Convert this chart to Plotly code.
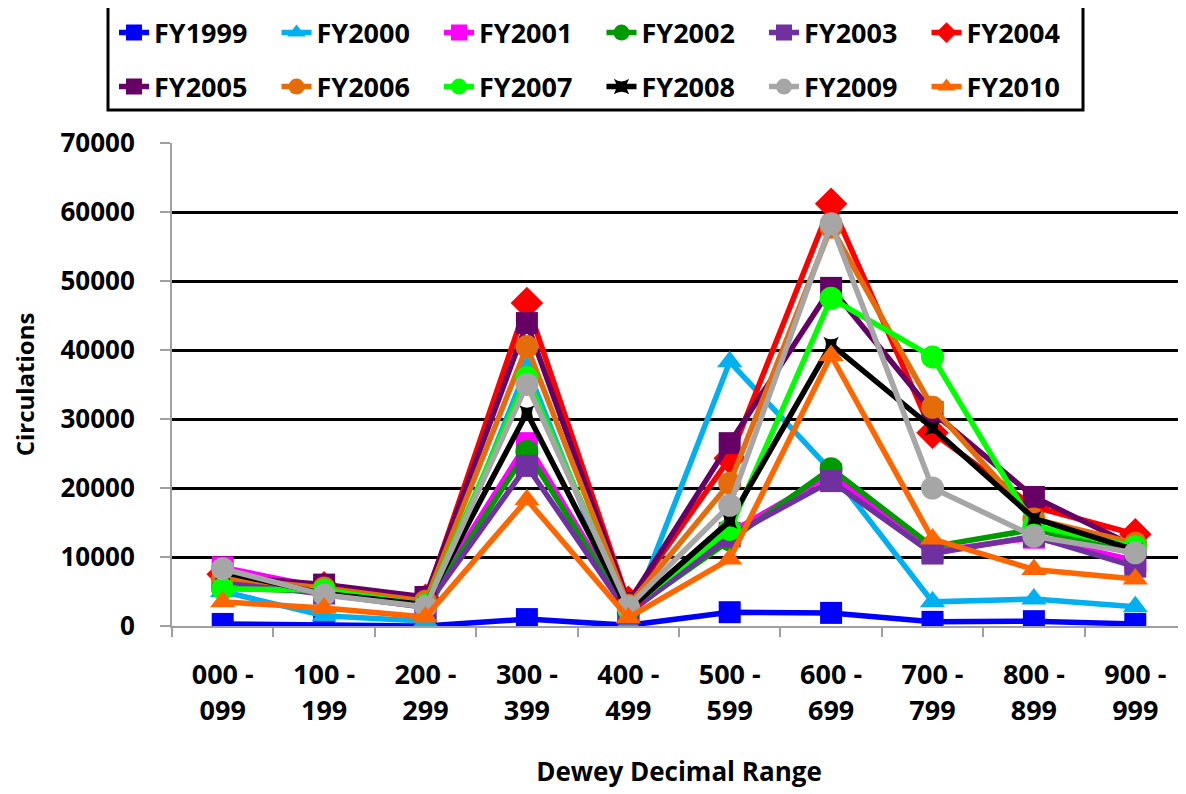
import plotly.graph_objects as go

categories = ["000 -<br>099", "100 -<br>199", "200 -<br>299", "300 -<br>399", "400 -<br>499",
              "500 -<br>599", "600 -<br>699", "700 -<br>799", "800 -<br>899", "900 -<br>999"]

fy1999 = [300, 150, 0, 1000, 100, 2000, 1900, 600, 700, 300]
fy2000 = [5000, 1500, 700, 37500, 400, 38300, 22500, 3500, 3900, 2800]
fy2001 = [8500, 5500, 3300, 26500, 2200, 13500, 22000, 10800, 12800, 9500]
fy2002 = [5500, 5000, 2800, 25300, 2000, 12500, 22800, 11500, 14000, 10500]
fy2003 = [6500, 4700, 2700, 23200, 1800, 13000, 21000, 10500, 13000, 8600]
fy2004 = [7500, 5600, 3800, 46800, 3500, 24300, 61200, 28000, 17300, 13300]
fy2005 = [7200, 6000, 4200, 43900, 3300, 26500, 49000, 31000, 18700, 11500]
fy2006 = [7000, 5500, 3600, 40500, 3000, 20700, 57800, 31700, 15500, 12000]
fy2007 = [5400, 5200, 3000, 36000, 2500, 14000, 47500, 39000, 14500, 11500]
fy2008 = [7800, 4700, 3100, 30900, 2300, 15200, 40800, 28700, 15600, 11000]
fy2009 = [8300, 4500, 2800, 35000, 2800, 17500, 58300, 20000, 13000, 10600]
fy2010 = [3500, 2600, 1300, 18300, 1200, 9700, 39200, 12600, 8200, 6800]

series_names = ["FY1999", "FY2000", "FY2001", "FY2002", "FY2003", "FY2004",
                "FY2005", "FY2006", "FY2007", "FY2008", "FY2009", "FY2010"]
series_values = [fy1999, fy2000, fy2001, fy2002, fy2003, fy2004,
                 fy2005, fy2006, fy2007, fy2008, fy2009, fy2010]
colors = ["#0000FF", "#00B0F0", "#FF00FF", "#009900", "#7030A0", "#FF0000",
          "#660066", "#E46C0A", "#00FF00", "#000000", "#A6A6A6", "#FF6600"]
symbols = ["square", "triangle-up", "square", "circle", "square", "diamond",
           "square", "circle", "circle", "star-square", "circle", "triangle-up"]
sizes = [22, 22, 22, 23, 22, 25, 22, 23, 23, 14, 23, 22]

FONT = "Open Sans"
W, H = 1178, 786  # page body has an 8px offset in the browser

fig = go.Figure()
for i, (name, vals) in enumerate(zip(series_names, series_values)):
    fig.add_trace(go.Scatter(
        x=categories, y=vals, name=name, mode="lines+markers",
        line=dict(color=colors[i], width=5.5),
        marker=dict(symbol=symbols[i], size=sizes[i], color=colors[i],
                    line=dict(width=0)),
        legend="legend" if i < 6 else "legend2",
    ))

legend_common = dict(
    orientation="h", xref="container", yref="container",
    x=106 / W, xanchor="left", yanchor="middle",
    font=dict(family=FONT, size=27, color="black", weight="bold"),
    entrywidth=117.5, entrywidthmode="pixels",
    bgcolor="rgba(0,0,0,0)", borderwidth=0, itemsizing="trace",
    traceorder="normal",
)

fig.update_layout(
    width=W, height=H,
    margin=dict(l=164, r=0, t=135, b=168, autoexpand=False),
    paper_bgcolor="white", plot_bgcolor="white",
    font=dict(family=FONT, size=26, color="black", weight="bold"),
    showlegend=True,
    legend=dict(legend_common, y=1 - 25 / H),
    legend2=dict(legend_common, y=1 - 79 / H),
    xaxis=dict(
        type="category", range=[-0.5, 9.5], automargin=False,
        showline=True, linecolor="#A0A0A0", linewidth=2,
        ticks="outside", tickson="boundaries", ticklen=9, tickcolor="#A0A0A0", tickwidth=2,
        showgrid=False, zeroline=False,
        tickfont=dict(family=FONT, size=27, color="black", weight="bold"),
        ticklabelstandoff=24,
        title=dict(text="Dewey Decimal Range", standoff=36,
                   font=dict(family=FONT, size=26, color="black", weight="bold")),
    ),
    yaxis=dict(
        range=[0, 70000], automargin=False,
        tickvals=[0, 10000, 20000, 30000, 40000, 50000, 60000, 70000],
        ticktext=["0", "10000", "20000", "30000", "40000", "50000", "60000", "70000"],
        showline=True, linecolor="#A0A0A0", linewidth=2,
        ticks="outside", ticklen=10, tickcolor="#A0A0A0", tickwidth=2,
        showgrid=True, gridcolor="black", gridwidth=3,
        zeroline=True, zerolinecolor="#A0A0A0", zerolinewidth=2,
        tickfont=dict(family=FONT, size=26, color="black", weight="bold"),
        ticklabelstandoff=20,
        title=dict(text="Circulations", standoff=26,
                   font=dict(family=FONT, size=24, color="black", weight="bold")),
    ),
    shapes=[dict(type="rect", xref="paper", yref="paper",
                 x0=(108 - 172) / 1014, x1=(1083 - 172) / 1014,
                 y0=(626 - 110) / 483, y1=(626 - 5) / 483,
                 line=dict(color="black", width=3), fillcolor="rgba(0,0,0,0)", layer="above")],
)

fig.write_html("out.html")
